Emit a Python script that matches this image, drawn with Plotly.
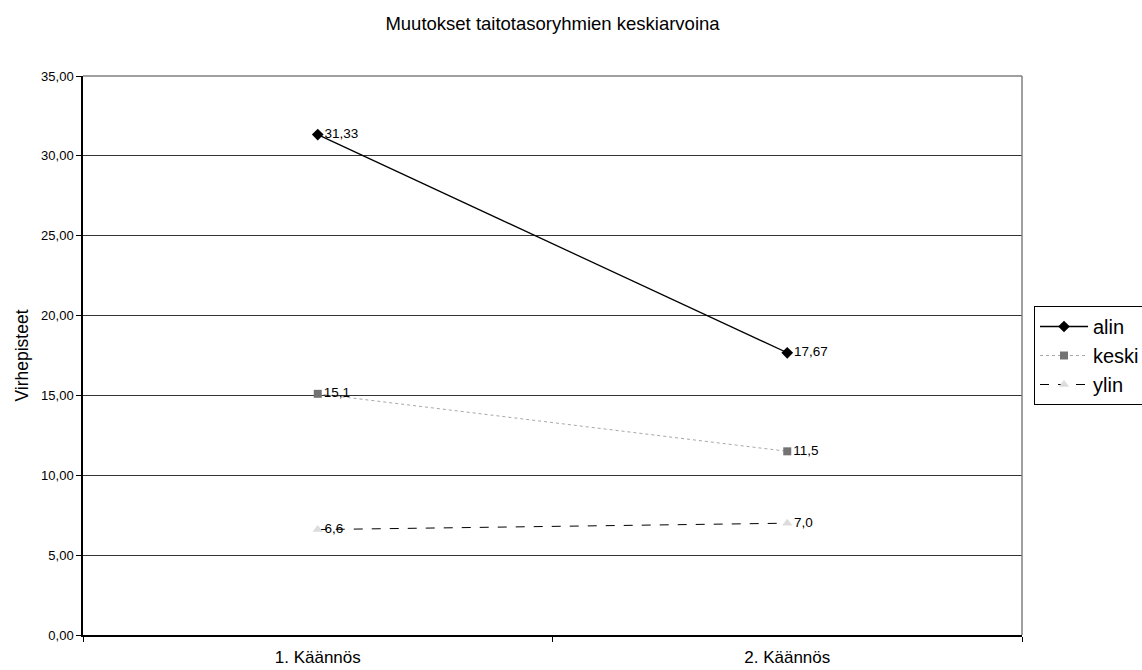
import plotly.graph_objects as go

categories = ["1. Käännös", "2. Käännös"]
alin = [31.33, 17.67]
keski = [15.1, 11.5]
ylin = [6.6, 7.0]
alin_labels = ["31,33", "17,67"]
keski_labels = ["15,1", "11,5"]
ylin_labels = ["6,6", "7,0"]
y_ticks = [0, 5, 10, 15, 20, 25, 30, 35]

FONT = "Liberation Sans, Arial, sans-serif"
LABEL_SIZE = 13.5

fig = go.Figure()
fig.add_trace(go.Scatter(
    x=categories, y=alin, name="alin", mode="lines+markers+text",
    text=alin_labels, textposition="middle right",
    textfont=dict(size=LABEL_SIZE, color="#000000", family=FONT),
    line=dict(color="#000000", width=1.3),
    marker=dict(symbol="diamond", size=9, color="#000000"),
))
fig.add_trace(go.Scatter(
    x=categories, y=keski, name="keski", mode="lines+markers+text",
    text=keski_labels, textposition="middle right",
    textfont=dict(size=LABEL_SIZE, color="#000000", family=FONT),
    line=dict(color="#a8a8a8", width=1, dash="dot"),
    marker=dict(symbol="square", size=8, color="#737373"),
))
fig.add_trace(go.Scatter(
    x=categories, y=ylin, name="ylin", mode="lines+markers+text",
    text=ylin_labels, textposition="middle right",
    textfont=dict(size=LABEL_SIZE, color="#000000", family=FONT),
    line=dict(color="#000000", width=1, dash="dash"),
    marker=dict(symbol="triangle-up", size=9, color="#dcdcdc"),
))

fig.update_layout(
    width=1142, height=670,
    margin=dict(l=83, r=120, t=76, b=35, autoexpand=False),
    paper_bgcolor="white", plot_bgcolor="white",
    separators=", ",
    font=dict(family=FONT, color="#000000", size=13),
    title=dict(text="Muutokset taitotasoryhmien keskiarvoina", x=0.5, xref="paper",
               y=1 - 24 / 670, yanchor="middle", xanchor="center",
               font=dict(size=18.5, family=FONT, color="#000000")),
    showlegend=True,
    legend=dict(x=1034 / 1142, xref="container", xanchor="left",
                y=1 - 306 / 670, yref="container", yanchor="top",
                bordercolor="#000000", borderwidth=1, bgcolor="white",
                font=dict(size=20, family=FONT, color="#000000"),
                tracegroupgap=0, itemwidth=48),
)
fig.update_xaxes(
    type="category", range=[-0.5, 1.5], tickson="boundaries",
    ticks="outside", ticklen=5, tickcolor="#000000",
    showline=True, linecolor="#000000", linewidth=1.5,
    showgrid=False, zeroline=False, ticklabelstandoff=6, automargin=False,
    tickfont=dict(size=17, family=FONT, color="#000000"),
)
fig.update_yaxes(
    range=[0, 35], tickvals=y_ticks, tickformat=".2f",
    ticks="outside", ticklen=5, tickcolor="#000000",
    showline=True, linecolor="#000000", linewidth=1.5,
    showgrid=True, gridcolor="#333333", gridwidth=1,
    zeroline=False, automargin=False,
    tickfont=dict(size=13, family=FONT, color="#000000"),
    title=dict(text="Virhepisteet", font=dict(size=17.5, family=FONT, color="#000000"), standoff=8),
)
# gray plot-area border on top and right
fig.add_shape(type="line", xref="paper", yref="paper", x0=0, x1=1, y0=1, y1=1,
              line=dict(color="#808080", width=1.5))
fig.add_shape(type="line", xref="paper", yref="paper", x0=1, x1=1, y0=0, y1=1,
              line=dict(color="#808080", width=1.5))

fig.write_html("out.html")
